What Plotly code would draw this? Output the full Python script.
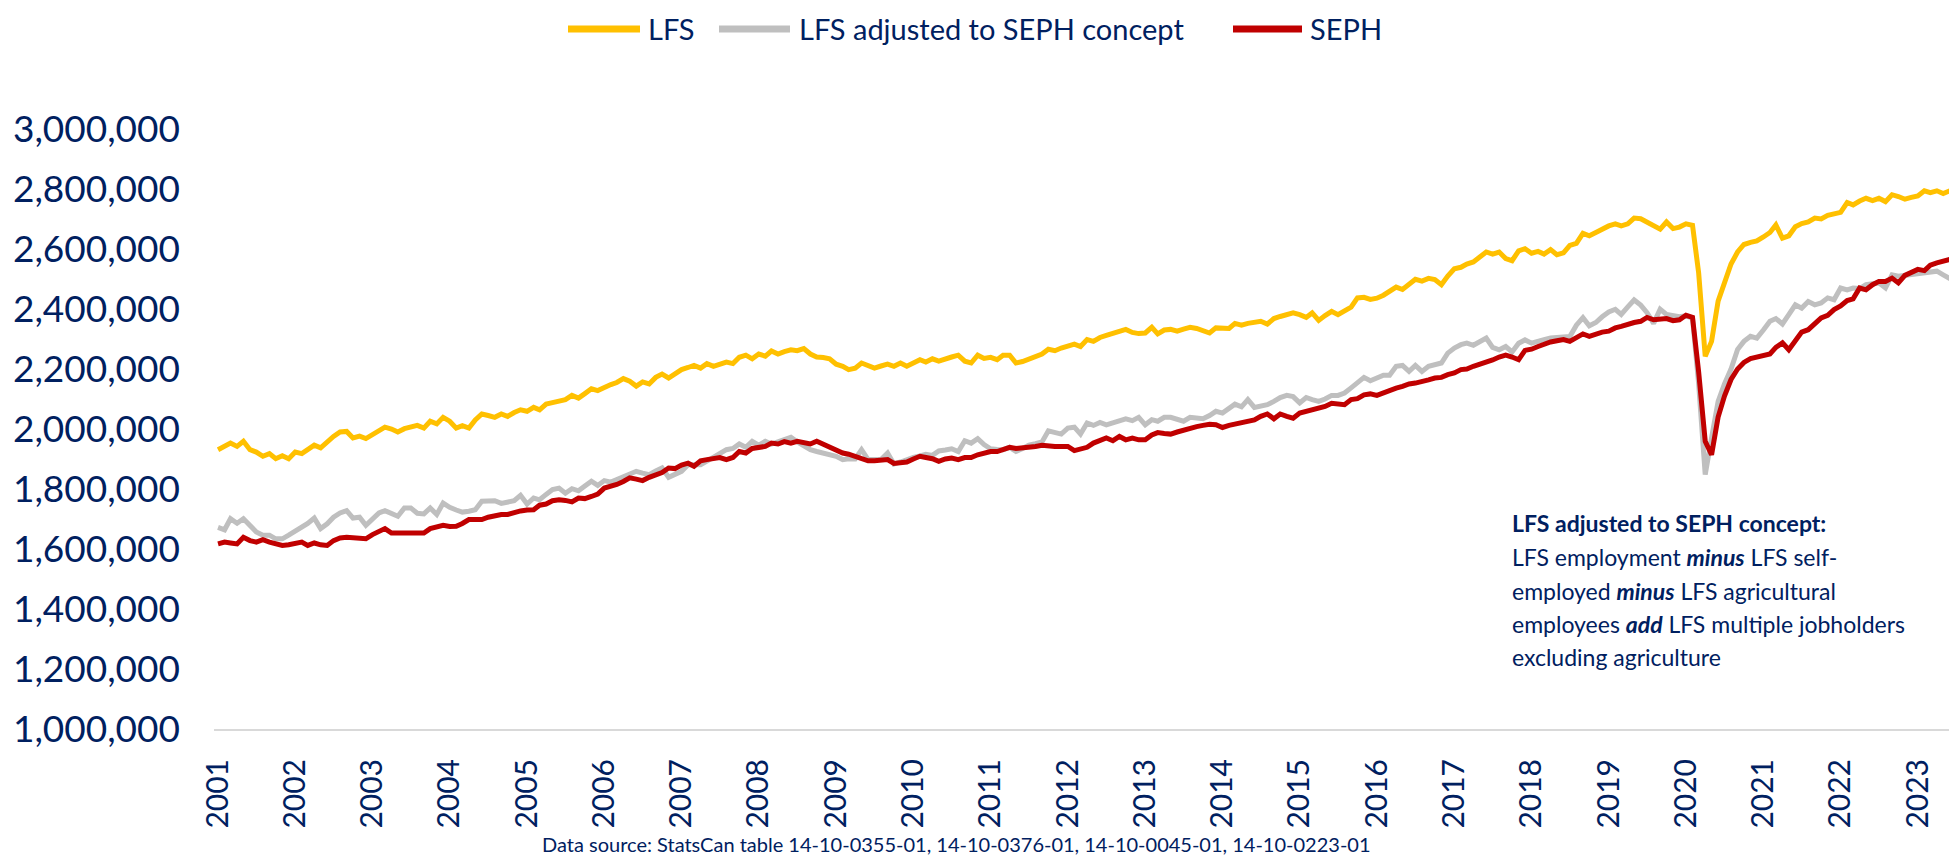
import pandas as pd
import plotly.graph_objects as go

# Monthly values, in thousands of persons
lfs_k = [
    # 2001
    1931, 1945, 1953, 1942, 1959, 1931, 1923, 1909, 1918, 1901, 1911, 1901,
    # 2002
    1923, 1918, 1930, 1946, 1937, 1959, 1975, 1990, 1992, 1970, 1976, 1968,
    # 2003
    1980, 1992, 2006, 2000, 1990, 2001, 2005, 2012, 2003, 2026, 2017, 2039,
    # 2004
    2026, 2003, 2011, 2003, 2030, 2050, 2045, 2039, 2050, 2042, 2055, 2064,
    # 2005
    2059, 2072, 2064, 2083, 2088, 2094, 2098, 2112, 2103, 2118, 2134, 2128,
    # 2006
    2140, 2148, 2155, 2168, 2159, 2143, 2157, 2150, 2172, 2183, 2170, 2185,
    # 2007
    2198, 2205, 2212, 2203, 2218, 2209, 2215, 2223, 2218, 2239, 2246, 2234,
    # 2008
    2250, 2243, 2260, 2250, 2258, 2264, 2261, 2268, 2250, 2240, 2238, 2234,
    # 2009
    2216, 2209, 2198, 2203, 2220, 2212, 2203, 2210, 2216, 2209, 2220, 2209,
    # 2010
    2220, 2231, 2223, 2234, 2226, 2235, 2240, 2246, 2226, 2220, 2246, 2235,
    # 2011
    2239, 2231, 2246, 2246, 2220, 2225, 2232, 2239, 2250, 2266, 2261, 2270,
    # 2012
    2276, 2283, 2275, 2298, 2292, 2305, 2312, 2320, 2328, 2332, 2322, 2318,
    # 2013
    2320, 2339, 2317, 2330, 2332, 2326, 2333, 2339, 2335, 2328, 2320, 2337,
    # 2014
    2338, 2335, 2352, 2346, 2352, 2357, 2359, 2350, 2368, 2375, 2380, 2387,
    # 2015
    2381, 2372, 2387, 2362, 2378, 2392, 2381, 2395, 2406, 2437, 2439, 2432,
    # 2016
    2436, 2446, 2458, 2473, 2465, 2482, 2499, 2493, 2502, 2498, 2481, 2510,
    # 2017
    2534, 2539, 2550, 2557, 2572, 2590, 2583, 2590, 2568, 2561, 2594, 2601,
    # 2018
    2586, 2592, 2583, 2598, 2581, 2587, 2612, 2619, 2652, 2644, 2655, 2666,
    # 2019
    2677, 2684, 2677, 2684, 2703, 2701, 2690, 2681, 2666, 2690, 2668, 2673,
    # 2020
    2684, 2679, 2520, 2242, 2292, 2426, 2482, 2550, 2590, 2615, 2622, 2627,
    # 2021
    2640, 2655, 2680, 2636, 2644, 2674, 2685, 2690, 2703, 2700, 2712, 2718,
    # 2022
    2722, 2755, 2747, 2760, 2769, 2761, 2769, 2758, 2781, 2775, 2766, 2772,
    # 2023
    2777, 2794, 2788, 2794, 2785, 2794, 2788, 2803,
]

adjusted_k = [
    # 2001
    1672, 1664, 1701, 1686, 1701, 1679, 1657, 1646, 1646, 1634, 1634, 1646,
    # 2002
    1659, 1672, 1685, 1703, 1668, 1684, 1706, 1720, 1728, 1703, 1706, 1679,
    # 2003
    1700, 1720, 1728, 1718, 1709, 1737, 1737, 1719, 1717, 1737, 1715, 1753,
    # 2004
    1739, 1730, 1723, 1726, 1731, 1759, 1759, 1761, 1752, 1758, 1761, 1779,
    # 2005
    1750, 1770, 1764, 1782, 1798, 1803, 1786, 1801, 1794, 1810, 1826, 1812,
    # 2006
    1828, 1823, 1832, 1839, 1850, 1859, 1853, 1848, 1860, 1870, 1839, 1848,
    # 2007
    1859, 1881, 1880, 1881, 1893, 1905, 1915, 1931, 1935, 1950, 1939, 1959,
    # 2008
    1946, 1959, 1950, 1957, 1965, 1972, 1957, 1945, 1931, 1925, 1920, 1912,
    # 2009
    1909, 1898, 1901, 1900, 1931, 1898, 1898, 1898, 1920, 1883, 1890, 1898,
    # 2010
    1905, 1910, 1916, 1912, 1927, 1930, 1934, 1925, 1961, 1953, 1968, 1948,
    # 2011
    1934, 1932, 1931, 1939, 1925, 1935, 1946, 1951, 1957, 1994, 1990, 1983,
    # 2012
    2003, 2006, 1983, 2020, 2012, 2022, 2014, 2020, 2026, 2034, 2028, 2039,
    # 2013
    2014, 2031, 2026, 2039, 2039, 2033, 2026, 2039, 2036, 2034, 2045, 2059,
    # 2014
    2053, 2068, 2083, 2074, 2098, 2072, 2076, 2081, 2092, 2105, 2112, 2108,
    # 2015
    2087, 2105, 2098, 2092, 2100, 2112, 2112, 2120, 2137, 2155, 2172, 2161,
    # 2016
    2170, 2179, 2179, 2209, 2212, 2192, 2212, 2192, 2209, 2215, 2220, 2253,
    # 2017
    2270, 2281, 2286, 2279, 2290, 2303, 2272, 2264, 2275, 2257, 2286, 2297,
    # 2018
    2286, 2294, 2298, 2303, 2305, 2306, 2308, 2346, 2371, 2344, 2355, 2374,
    # 2019
    2390, 2399, 2382, 2407, 2430, 2413, 2388, 2352, 2399, 2382, 2376, 2374,
    # 2020
    2377, 2370, 2150, 1848, 1970, 2092, 2150, 2200, 2265, 2292, 2309, 2303,
    # 2021
    2330, 2359, 2368, 2350, 2381, 2414, 2403, 2425, 2414, 2420, 2437, 2431,
    # 2022
    2470, 2464, 2470, 2468, 2481, 2484, 2487, 2470, 2514, 2509, 2512, 2514,
    # 2023
    2520, 2524, 2526, 2526, 2514, 2503, 2490, 2505,
]

seph_k = [
    # 2001
    1617, 1623, 1620, 1617, 1639, 1628, 1623, 1631, 1623, 1617, 1612, 1614,
    # 2002
    1618, 1623, 1612, 1620, 1614, 1612, 1628, 1637, 1639, 1636, 1634, 1634,
    # 2003
    1648, 1657, 1668, 1653, 1653, 1653, 1655, 1653, 1653, 1668, 1672, 1679,
    # 2004
    1675, 1676, 1685, 1698, 1698, 1698, 1706, 1712, 1715, 1715, 1723, 1727,
    # 2005
    1730, 1731, 1746, 1750, 1761, 1764, 1762, 1757, 1770, 1768, 1775, 1783,
    # 2006
    1803, 1808, 1815, 1825, 1837, 1833, 1828, 1839, 1848, 1855, 1870, 1868,
    # 2007
    1880, 1886, 1876, 1894, 1898, 1901, 1905, 1898, 1905, 1925, 1920, 1935,
    # 2008
    1939, 1942, 1953, 1950, 1958, 1953, 1959, 1955, 1950, 1959, 1950, 1940,
    # 2009
    1928, 1920, 1916, 1909, 1904, 1894, 1894, 1896, 1898, 1885, 1888, 1890,
    # 2010
    1900, 1909, 1905, 1901, 1892, 1900, 1903, 1898, 1905, 1905, 1914, 1920,
    # 2011
    1925, 1925, 1931, 1939, 1935, 1936, 1940, 1942, 1946, 1942, 1942, 1942,
    # 2012
    1942, 1928, 1935, 1939, 1953, 1964, 1970, 1961, 1975, 1964, 1970, 1964,
    # 2013
    1964, 1980, 1988, 1985, 1983, 1990, 1997, 2000, 2008, 2012, 2016, 2014,
    # 2014
    2005, 2012, 2016, 2019, 2025, 2030, 2042, 2050, 2034, 2050, 2042, 2036,
    # 2015
    2053, 2059, 2064, 2070, 2075, 2086, 2083, 2081, 2098, 2101, 2114, 2117,
    # 2016
    2112, 2120, 2131, 2136, 2142, 2150, 2153, 2157, 2164, 2170, 2172, 2181,
    # 2017
    2187, 2198, 2200, 2209, 2215, 2223, 2230, 2240, 2246, 2240, 2231, 2262,
    # 2018
    2266, 2275, 2284, 2290, 2294, 2298, 2292, 2305, 2317, 2309, 2317, 2323,
    # 2019
    2326, 2337, 2342, 2350, 2355, 2359, 2372, 2364, 2364, 2368, 2361, 2364,
    # 2020
    2379, 2372, 2190, 1959, 1914, 2040, 2110, 2165, 2200, 2222, 2235, 2240,
    # 2021
    2242, 2250, 2272, 2287, 2264, 2292, 2323, 2331, 2350, 2370, 2379, 2398,
    # 2022
    2410, 2428, 2434, 2470, 2464, 2481, 2492, 2492, 2503, 2487, 2512, 2520,
    # 2023
    2532, 2528, 2546, 2554, 2559, 2565,
]

series_names = ["LFS", "LFS adjusted to SEPH concept", "SEPH"]
series_colors = ["#FFC000", "#BFBFBF", "#C00000"]

start_month = "2001-01-01"
tick_years = list(range(2001, 2024))

NAVY = "#002060"
FONT = "Lato, 'Open Sans', sans-serif"

# plot area geometry (pixels)
W, H = 1957, 856
L, R, T, B = 206, 0, 121, 135
PW, PH = W - L - R, H - T - B


def px_x(p):
    return (p - L) / PW


def px_y(p):
    return (H - B - p) / PH


fig = go.Figure()
for vals, name, color in zip([lfs_k, adjusted_k, seph_k], series_names, series_colors):
    months = pd.date_range(start_month, periods=len(vals), freq="MS")
    fig.add_trace(go.Scatter(x=months, y=[v * 1000 for v in vals], mode="lines",
                             name=name, showlegend=False,
                             line=dict(color=color, width=5)))

fig.update_layout(
    width=W, height=H,
    margin=dict(l=L, r=R, t=T, b=B, autoexpand=False),
    paper_bgcolor="white", plot_bgcolor="white",
    font=dict(family=FONT, color=NAVY),
    showlegend=False,
    xaxis=dict(
        type="date",
        range=["2000-12-13", "2023-08-12"],
        tickvals=[f"{y}-01-01" for y in tick_years],
        ticktext=[str(y) for y in tick_years],
        tickangle=-90,
        tickfont=dict(size=30, color=NAVY),
        showgrid=False, zeroline=False,
        showline=True, linecolor="#D9D9D9", linewidth=2,
        ticks="", ticklabelstandoff=16, automargin=False,
    ),
    yaxis=dict(
        range=[1_000_000, 3_000_000],
        dtick=200_000, tick0=1_000_000,
        tickformat=",",
        tickfont=dict(size=37, color=NAVY),
        showgrid=False, zeroline=False, showline=False,
        ticks="", ticklabelstandoff=33, automargin=False,
    ),
)

# legend (drawn at the top, centred)
legend_items = [(560, 632, 638), (711, 782, 789), (1225, 1294, 1300)]
legend_y = px_y(21)
for (x0, x1, xt), name, color in zip(legend_items, series_names, series_colors):
    fig.add_shape(type="line", xref="paper", yref="paper",
                  x0=px_x(x0), x1=px_x(x1), y0=legend_y, y1=legend_y,
                  line=dict(color=color, width=7))
    fig.add_annotation(xref="paper", yref="paper", x=px_x(xt), y=legend_y,
                       xanchor="left", yanchor="middle", showarrow=False,
                       text=name, font=dict(size=29, color=NAVY, family=FONT))

note_lines = [
    "<b>LFS adjusted to SEPH concept:</b>",
    "LFS employment <b><i>minus</i></b> LFS self-",
    "employed <b><i>minus</i></b> LFS agricultural",
    "employees <b><i>add</i></b> LFS multiple jobholders",
    "excluding agriculture",
]
note_py = [515, 549, 583, 616, 649]
for txt, py in zip(note_lines, note_py):
    fig.add_annotation(xref="paper", yref="paper", x=px_x(1502), y=px_y(py),
                       xanchor="left", yanchor="middle", showarrow=False,
                       text=txt, font=dict(size=23, color=NAVY, family=FONT))

fig.add_annotation(xref="paper", yref="paper", x=px_x(948), y=px_y(836),
                   xanchor="center", yanchor="middle", showarrow=False,
                   borderpad=0,
                   text="Data source: StatsCan table 14-10-0355-01, 14-10-0376-01, 14-10-0045-01, 14-10-0223-01",
                   font=dict(size=20, color=NAVY, family=FONT))

fig.write_html("out.html")
